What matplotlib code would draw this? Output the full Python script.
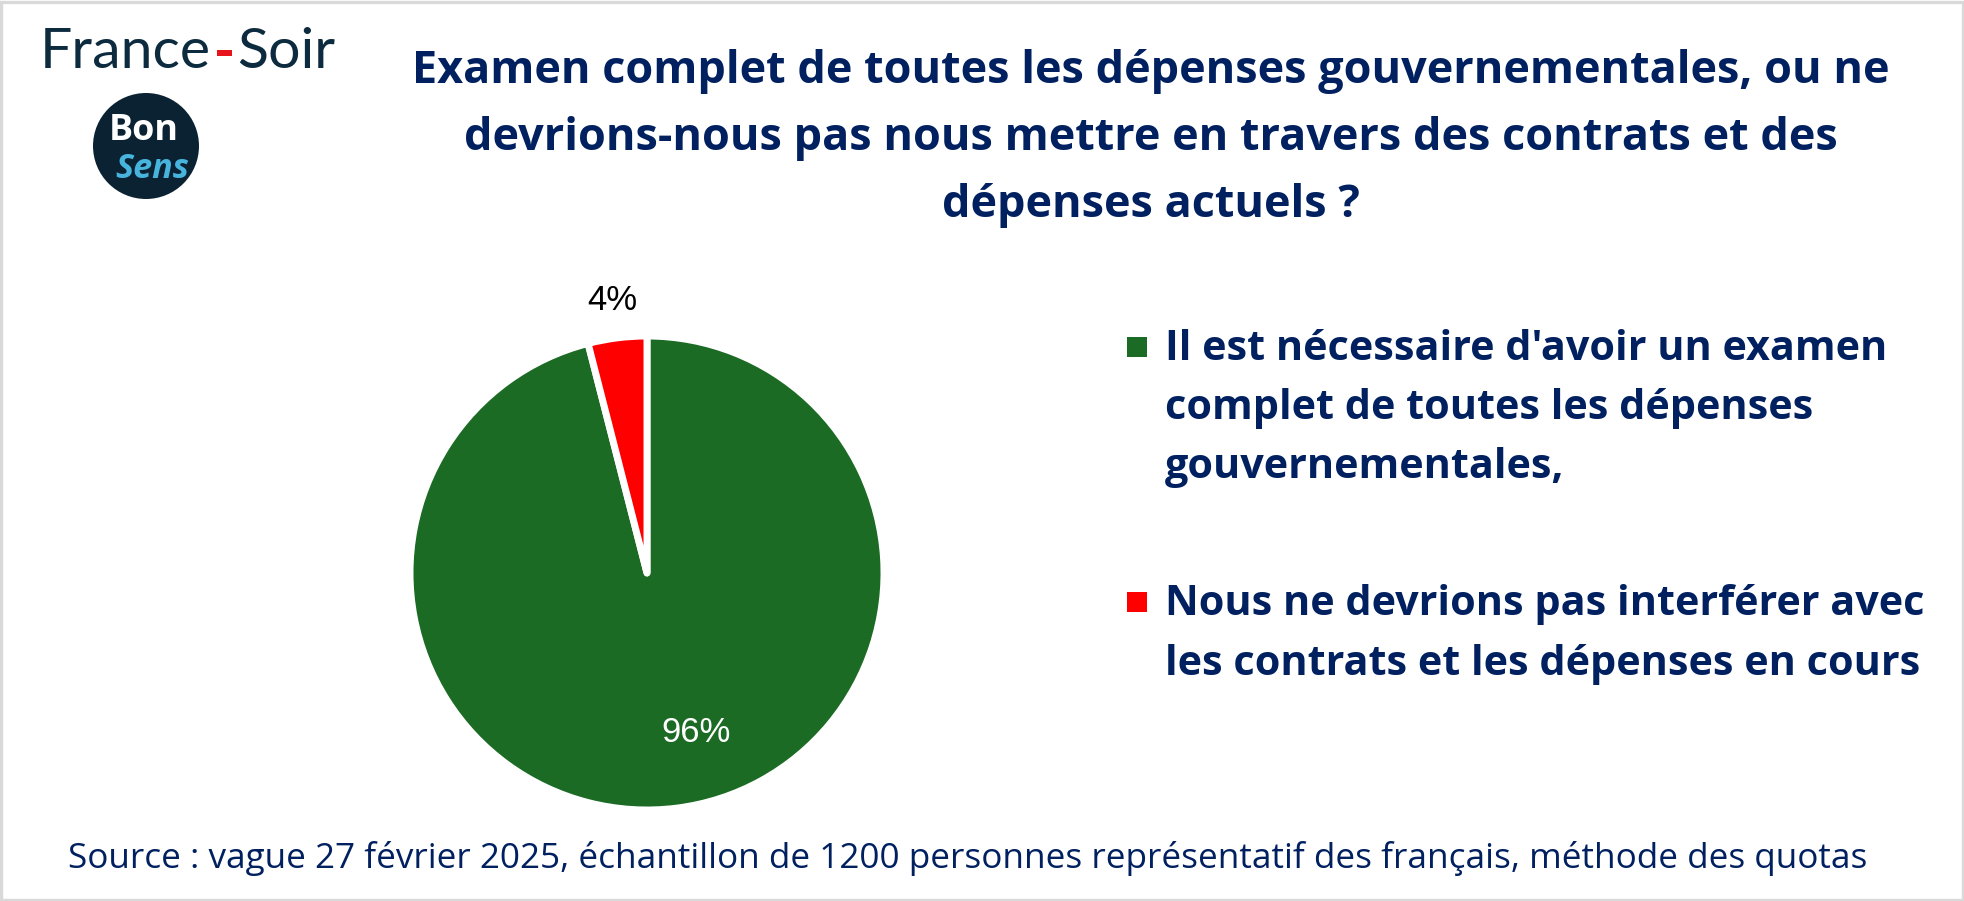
import matplotlib
matplotlib.use("Agg")
import matplotlib.pyplot as plt
from matplotlib.patches import Rectangle, Circle
import numpy as np

# ---------------- data ----------------
title_lines = [
    "Examen complet de toutes les dépenses gouvernementales, ou ne",
    "devrions-nous pas nous mettre en travers des contrats et des",
    "dépenses actuels ?",
]
categories = [
    "Il est nécessaire d'avoir un examen\ncomplet de toutes les dépenses\ngouvernementales,",
    "Nous ne devrions pas interférer avec\nles contrats et les dépenses en cours",
]
values = [96, 4]
value_labels = ["96%", "4%"]
colors = ["#1B6B24", "#FF0000"]
source_text = ("Source : vague 27 février 2025, échantillon de 1200 personnes "
               "représentatif des français, méthode des quotas")

# ---------------- layout ----------------
W, H, DPI = 1965, 901, 100
NAVY = "#002060"
fig = plt.figure(figsize=(W / DPI, H / DPI), dpi=DPI)
fig.patch.set_facecolor("white")
renderer = fig.canvas.get_renderer()


def fx(px):
    return px / W


def fy(py):
    return 1 - py / H


def fit(t, target_w):
    w = t.get_window_extent(renderer).width
    t.set_fontsize(t.get_fontsize() * target_w / w)
    return t


SANS = ["Open Sans", "DejaVu Sans"]

# border
fig.patches.append(Rectangle((fx(1.5), fy(H - 1.5)), (W - 3) / W, (H - 3) / H,
                             transform=fig.transFigure, fill=False,
                             edgecolor="#D9D9D9", linewidth=2.4))

# title
title_w = [1479, 1426, 433]
t0 = fig.text(fx(1151), fy(83), title_lines[0], ha="center", va="baseline",
              fontsize=30, fontweight="bold", color=NAVY, family=SANS)
fit(t0, title_w[0])
fs_title = t0.get_fontsize()
for i, line in enumerate(title_lines[1:], start=1):
    fig.text(fx(1151), fy(83 + 67 * i), line, ha="center", va="baseline",
             fontsize=fs_title, fontweight="bold", color=NAVY, family=SANS)

# pie
R = 237
cx, cy = 647, 573
ax = fig.add_axes([fx(cx - R), fy(cy + R), 2 * R / W, 2 * R / H])
wedges, _ = ax.pie(values, colors=colors, startangle=90, counterclock=False,
                   radius=1.0,
                   wedgeprops=dict(edgecolor="white", linewidth=5,
                                   joinstyle="round"))
ax.set_xlim(-1, 1)
ax.set_ylim(-1, 1)
ax.set_aspect("auto")
ax.axis("off")

label_dist = [0.70, 1.16]
label_color = ["white", "black"]
label_nudge = [(0.12, 0.02), (0.0, 0.0)]
for w_, lab, d, c, nd in zip(wedges, value_labels, label_dist, label_color, label_nudge):
    ang = np.deg2rad((w_.theta1 + w_.theta2) / 2)
    ax.text(d * np.cos(ang) + nd[0], d * np.sin(ang) + nd[1], lab,
            ha="center", va="center", color=c, fontsize=25,
            family=["Liberation Sans", "DejaVu Sans"])

# legend (manual)
leg_baselines = [[360, 419, 478], [615, 675]]
probe = fig.text(0, 0, categories[0].split("\n")[0], fontsize=24,
                 fontweight="bold", family=SANS)
fit(probe, 721)
fs_leg = probe.get_fontsize()
probe.remove()
for cat, col, bls in zip(categories, colors, leg_baselines):
    for line, bl in zip(cat.split("\n"), bls):
        fig.text(fx(1165), fy(bl), line, ha="left", va="baseline",
                 fontsize=fs_leg, fontweight="bold", color=NAVY, family=SANS)
    fig.patches.append(Rectangle((fx(1127), fy(bls[0] - 3)), 20 / W, 20 / H,
                                 transform=fig.transFigure, facecolor=col,
                                 edgecolor="none"))

# source
st = fig.text(fx(68), fy(868), source_text, ha="left", va="baseline",
              fontsize=20, color=NAVY, family=SANS)
fit(st, 1795)

# France-Soir logo
LOGO = "#0D2B3E"
f1 = fig.text(fx(40), fy(68), "France", ha="left", va="baseline", fontsize=40,
              color=LOGO, family=["Lato", "DejaVu Sans"], fontweight="normal")
fit(f1, 171)
f2 = fig.text(fx(237), fy(68), "Soir", ha="left", va="baseline",
              fontsize=f1.get_fontsize(), color=LOGO,
              family=["Lato", "DejaVu Sans"], fontweight="normal")
fig.patches.append(Rectangle((fx(217), fy(56)), 15 / W, 6 / H,
                             transform=fig.transFigure, facecolor="#E8141B",
                             edgecolor="none"))

# Bon Sens logo
lr = 53
lax = fig.add_axes([fx(146 - lr), fy(146 + lr), 2 * lr / W, 2 * lr / H])
lax.set_xlim(-1, 1)
lax.set_ylim(-1, 1)
lax.axis("off")
lax.add_patch(Circle((0, 0), 1, facecolor="#0B2233", edgecolor="none"))
b = fig.text(fx(144), fy(140), "Bon", ha="center", va="baseline", fontsize=20,
             color="white", fontweight="bold", family=SANS)
fit(b, 70)
s = fig.text(fx(152), fy(178), "Sens", ha="center", va="baseline", fontsize=20,
             color="#46B4DD", fontweight="bold", style="italic", family=SANS)
fit(s, 74)

fig.savefig("out.png", dpi=DPI, facecolor="white")
